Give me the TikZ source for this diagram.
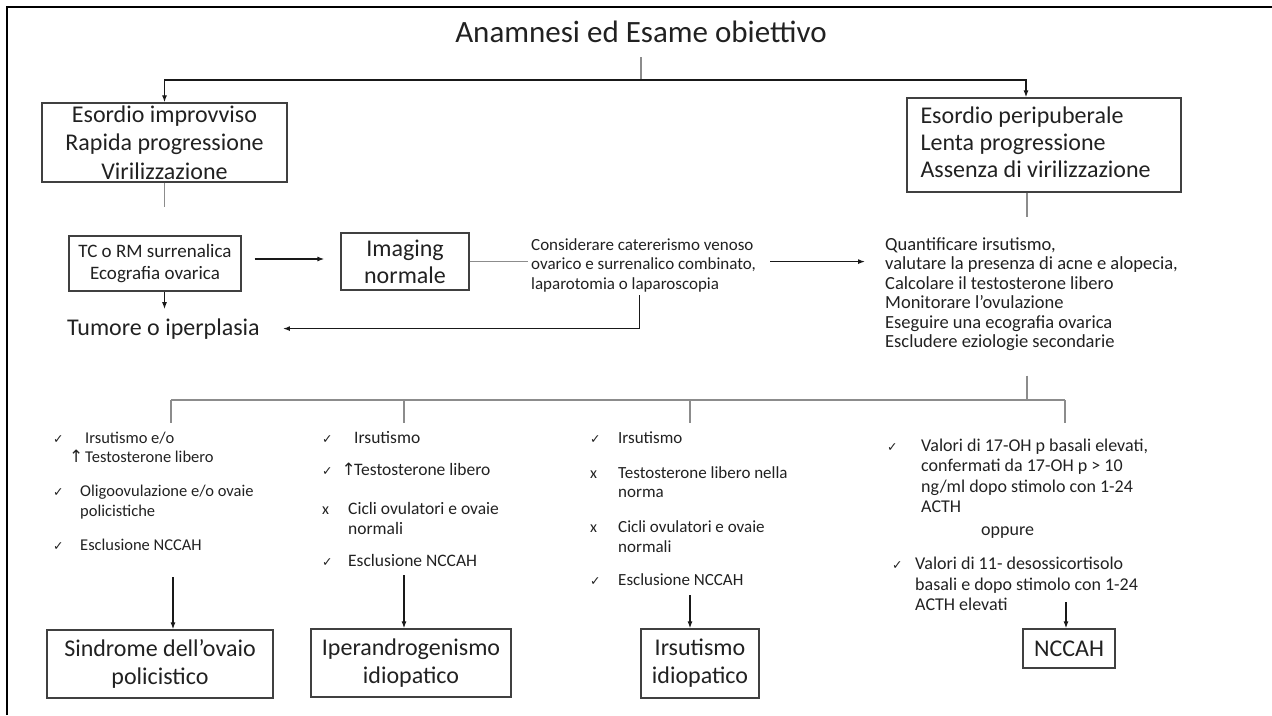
\documentclass[tikz,border=0pt]{standalone}
\usepackage{fontspec}
\setmainfont{Carlito}
\newfontfamily\symfont{DejaVu Sans}
\usetikzlibrary{arrows.meta,positioning}

\newcommand{\ck}{{\symfont\fontsize{12.5}{12.5}\selectfont ✓}}
\newcommand{\up}{{\symfont\fontsize{17}{17}\selectfont ↑}}
\newcommand{\no}{{\fontsize{16}{16}\selectfont x}}

\begin{document}
\begin{tikzpicture}[
    x=1pt, y=-1pt,
    txt/.style={text=black!87, inner sep=0pt},
    box/.style={draw=black!75, line width=1.3pt, align=center, inner sep=0pt, text=black!87},
    bigbox/.style={box, font=\fontsize{24}{28.5}\selectfont},
    list/.style={txt, anchor=base west, font=\fontsize{18.5}{19.5}\selectfont},
    gline/.style={draw=black!45, line width=1.2pt},
    arr/.style={-{Latex[length=7pt,width=5pt]}, line width=1.2pt, draw=black!90}
]
\useasboundingbox (0,0) rectangle (1272,715);
\draw[line width=2.8pt] (7,715) -- (7,7) -- (1272,7);

% top
\node[txt, anchor=base, font=\fontsize{31}{36}\selectfont] (title) at (641,42) {Anamnesi ed Esame obiettivo};
\node[bigbox, minimum width=245pt, minimum height=79pt] (sudden) at (164.5,142.5)
    {Esordio improvviso\\Rapida progressione\\Virilizzazione};
\node[bigbox, font=\fontsize{24}{27}\selectfont, minimum width=274pt, minimum height=94pt] (slow) at (1044,145)
    {\begin{tabular}{@{}p{247pt}@{}}
     Esordio peripuberale\\
     Lenta progressione\\
     Assenza di virilizzazione
     \end{tabular}};

\coordinate (split) at (641,80);
\draw[gline, shorten <=15pt] (title.south -| split) -- (split);
\draw[arr] (split) -| (sudden);
\draw[arr] (split) -| ([xshift=-18pt]slow.north);

% left branch
\coordinate (suddenend) at (164.5,207);
\draw[gline] (sudden) -- (suddenend);
\node[box, font=\fontsize{19}{22}\selectfont, minimum width=172pt, minimum height=55pt] (tc) at (155,263.5)
    {TC o RM surrenalica\\Ecografia ovarica};
\node[bigbox, font=\fontsize{24}{27}\selectfont, minimum width=128pt, minimum height=57pt] (imaging) at (405,261.5)
    {Imaging\\normale};
\node[list, font=\fontsize{17}{19.5}\selectfont] (consider) at (531,250)
    {\begin{tabular}[t]{@{}l@{}}
     Considerare catererismo venoso\\
     ovarico e surrenalico combinato,\\
     laparotomia o laparoscopia
     \end{tabular}};
\node[txt, anchor=base west, font=\fontsize{24}{28}\selectfont] (tumor) at (67,335) {Tumore o iperplasia};

\draw[arr, shorten <=13pt, shorten >=16pt] ([yshift=4.5pt]tc.east) -- ([yshift=4.5pt]tc.east -| imaging.west);
\draw[gline, shorten >=3pt] (imaging.east) -- (imaging.east -| consider.west);
\draw[arr, shorten >=9pt] (tc.south -| sudden) -- (tumor.north -| sudden);
\draw[arr, shorten >=23pt] ([xshift=-4pt]consider.south) |- (tumor.east);

% right branch
\node[list] (quant) at (885,250)
    {\begin{tabular}[t]{@{}l@{}}
     Quantificare irsutismo,\\
     valutare la presenza di acne e alopecia,\\
     Calcolare il testosterone libero\\
     Monitorare l’ovulazione\\
     Eseguire una ecografia ovarica\\
     Escludere eziologie secondarie
     \end{tabular}};
\draw[arr, shorten <=14pt, shorten >=20pt] ([yshift=4pt]consider.east) -- ([yshift=4pt]consider.east -| quant.west);

\coordinate (hub) at (1027,400);
\draw[gline, shorten >=19pt] (slow.south -| hub) -- (quant.north -| hub);
\draw[gline, shorten <=22pt] (quant.south -| hub) -- (hub);

% bottom tree
\foreach \i/\x in {1/171,2/404,3/690,4/1065}
    \coordinate (b\i) at (\x,400);
\draw[gline] (b1) -- (b4);
\foreach \i in {1,...,4}
    \draw[gline] (b\i) -- ++(0,23);

\node[list, font=\fontsize{16.5}{19.5}\selectfont] (col1) at (53,443)
    {\begin{tabular}[t]{@{}p{32pt}@{}l@{}}
     \ck & Irsutismo e/o\\
     \hspace{16pt}\up & Testosterone libero\\[14.5pt]
     \ck & \hspace{-5pt}Oligoovulazione e/o ovaie\\
         & \hspace{-5pt}policistiche\\[14.5pt]
     \ck & \hspace{-5pt}Esclusione NCCAH
     \end{tabular}};
\node[list, font=\fontsize{17.5}{19.5}\selectfont] (col2) at (322,443)
    {\begin{tabular}[t]{@{}p{26pt}@{}l@{}}
     \ck & \hspace{6pt}Irsutismo\\[13pt]
     \rlap{\ck\hspace{9pt}\up} & \hspace{6pt}Testosterone libero\\[15pt]
     \no & Cicli ovulatori e ovaie\\
         & normali\\[13pt]
     \ck & Esclusione NCCAH
     \end{tabular}};
\node[list, font=\fontsize{17}{19.5}\selectfont] (col3) at (590,443)
    {\begin{tabular}[t]{@{}p{28pt}@{}l@{}}
     \ck & Irsutismo\\[15.5pt]
     \no & Testosterone libero nella\\
         & norma\\[15.5pt]
     \no & Cicli ovulatori e ovaie\\
         & normali\\[13.5pt]
     \ck & Esclusione NCCAH
     \end{tabular}};
\node[list, font=\fontsize{18}{20.5}\selectfont] (col4) at (887,451)
    {\begin{tabular}[t]{@{}p{34pt}@{}l@{}}
     \ck & Valori di 17-OH p basali elevati,\\
         & confermati da 17-OH p > 10\\
         & ng/ml dopo stimolo con 1-24\\
         & ACTH\\[2pt]
         & \hspace{60pt}oppure\\[14pt]
     \hspace{5pt}\ck & \hspace{-6pt}Valori di 11- desossicortisolo\\
         & \hspace{-6pt}basali e dopo stimolo con 1-24\\
         & \hspace{-6pt}ACTH elevati
     \end{tabular}};

\node[bigbox, font=\fontsize{24}{28}\selectfont, minimum width=226pt, minimum height=68pt] (res1) at (160,664)
    {Sindrome dell’ovaio\\policistico};
\node[bigbox, font=\fontsize{24}{28}\selectfont, minimum width=200pt, minimum height=68pt] (res2) at (411,663)
    {Iperandrogenismo\\idiopatico};
\node[bigbox, font=\fontsize{24}{28}\selectfont, minimum width=118pt, minimum height=69pt] (res3) at (700,663.5)
    {Irsutismo\\idiopatico};
\node[bigbox, font=\fontsize{24}{28}\selectfont, minimum width=92pt, minimum height=39pt] (res4) at (1069,648.5)
    {NCCAH};

\coordinate (a1) at (173,577);
\coordinate (a2) at (404,575);
\coordinate (a3) at (690,595);
\coordinate (a4) at (1066,602);
\foreach \i in {1,...,4}
    \draw[arr] (a\i) -- (a\i |- res\i.north);
\end{tikzpicture}
\end{document}
